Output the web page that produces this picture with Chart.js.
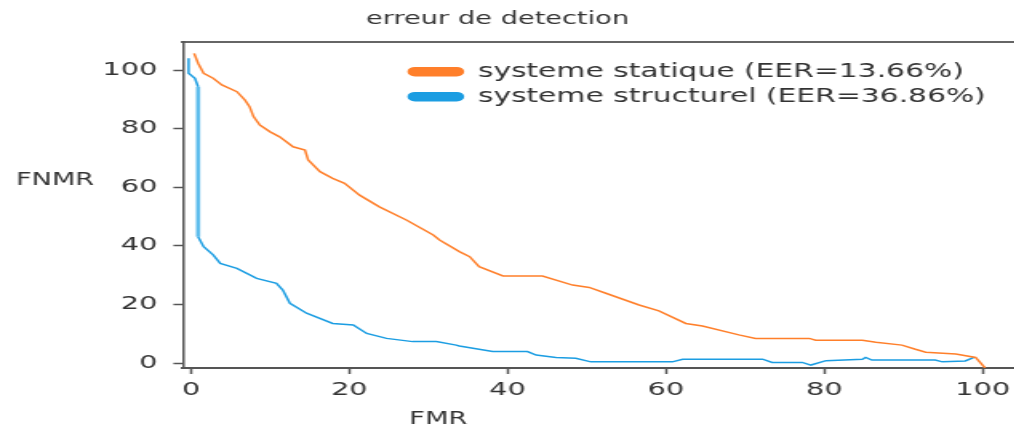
<!DOCTYPE html>
<html>
<head>
<meta charset="utf-8">
<title>erreur de detection</title>
<script src="https://cdn.jsdelivr.net/npm/chart.js@4.4.1/dist/chart.umd.min.js"></script>
<style>
  html, body { margin: 0; padding: 0; background: #fff; overflow: hidden; }
  #wrap { width: 660px; height: 433px; transform: scaleX(1.6); transform-origin: 0 0; }
</style>
</head>
<body>
<div id="wrap"><canvas id="detChart"></canvas></div>
<script>
const fmrTicks = [0, 20, 40, 60, 80, 100];
const fnmrTicks = [0, 20, 40, 60, 80, 100];

const statiqueLabel = 'systeme statique (EER=13.66%)';
const statiqueFmr = [0.4, 0.9, 1.6, 2.8, 3.9, 5.8, 6.8, 7.4, 7.9, 8.7, 10.0, 11.2, 12.9, 14.4, 14.8, 16.3, 17.9, 19.4, 21.3, 23.8, 27.2, 30.6, 31.4, 33.9, 35.2, 36.4, 39.4, 44.4, 48.2, 50.3, 52.4, 56.6, 59.1, 62.5, 64.6, 69.2, 71.3, 78.1, 78.9, 84.8, 86.5, 89.8, 91.5, 92.8, 96.6, 99.1, 100.3];
const statiqueFnmr = [105.7, 102.3, 98.9, 97.2, 94.9, 92.6, 89.8, 87.5, 84.1, 81.2, 78.9, 77.2, 73.8, 72.7, 69.3, 65.3, 63.0, 61.3, 57.3, 53.3, 48.8, 43.7, 42.0, 38.0, 36.3, 32.9, 29.7, 29.7, 26.6, 25.8, 23.8, 19.8, 17.8, 13.5, 12.6, 9.6, 8.4, 8.4, 7.8, 7.8, 7.1, 6.1, 4.7, 3.7, 3.1, 1.9, -1.7];

const structurelLabel = 'systeme structurel (EER=36.86%)';
const structurelFmr = [-0.3, -0.3, 0.5, 0.9, 0.9, 1.6, 2.8, 3.7, 5.8, 8.3, 10.8, 11.6, 12.5, 14.6, 17.9, 20.5, 22.2, 24.7, 28.0, 31.0, 33.5, 33.9, 38.1, 42.5, 43.6, 46.1, 48.6, 50.5, 60.8, 62.1, 72.2, 73.4, 77.2, 78.3, 80.2, 84.8, 85.2, 86.0, 94.0, 94.9, 97.8, 98.9];
const structurelFnmr = [104.0, 98.9, 97.2, 94.3, 43.1, 39.7, 36.9, 34.0, 32.3, 28.9, 27.2, 24.9, 20.4, 17.0, 13.5, 13.0, 10.1, 8.4, 7.3, 7.3, 6.1, 5.8, 3.9, 3.9, 2.7, 1.9, 1.6, 0.4, 0.4, 1.3, 1.3, 0.2, 0.2, -0.7, 0.8, 1.3, 1.9, 1.0, 1.0, 0.4, 0.7, 1.9];

const toPoints = (xs, ys) => xs.map((x, i) => ({ x: x, y: ys[i] }));

const textColor = '#333';
const axisColor = '#555';
const font = { family: 'DejaVu Sans', size: 18 };

const xRange = { min: -1.01, max: 109.1 };
const yRange = { min: -1.706, max: 109.56 };

// legend sits inside the plot, title a little left of centre, axis names drawn flat
const placement = {
    id: 'placement',
    afterLayout(chart) {
        chart.legend.left = 249;
        chart.legend.top = 56;
        chart.titleBlock.right = chart.titleBlock.left + 622;
    },
    afterDraw(chart) {
        const ctx = chart.ctx;
        ctx.save();
        ctx.font = '17px "DejaVu Sans"';
        ctx.fillStyle = textColor;
        ctx.textAlign = 'center';
        ctx.textBaseline = 'middle';
        ctx.fillText('FNMR', 34.4, 181);
        ctx.fillText('FMR', 274, 420);
        ctx.restore();
    }
};

new Chart(document.getElementById('detChart'), {
    type: 'line',
    data: {
        datasets: [{
            label: statiqueLabel,
            data: toPoints(statiqueFmr, statiqueFnmr),
            borderColor: '#ff7f2a',
            backgroundColor: '#ff7f2a'
        }, {
            label: structurelLabel,
            data: toPoints(structurelFmr, structurelFnmr),
            borderColor: '#1b9de2',
            backgroundColor: '#1b9de2',
            segment: {
                borderWidth: ctx => (ctx.p0.parsed.y - ctx.p1.parsed.y > 20 ? 2.6 : undefined),
                borderColor: ctx => (ctx.p0.parsed.y - ctx.p1.parsed.y > 20 ? '#5cbcec' : undefined)
            }
        }]
    },
    options: {
        responsive: true,
        maintainAspectRatio: false,
        animation: false,
        layout: { padding: 0 },
        elements: {
            line: { borderWidth: 1.5, tension: 0 },
            point: { radius: 0 }
        },
        plugins: {
            title: {
                display: true,
                text: 'erreur de detection',
                color: '#333',
                font: { family: 'DejaVu Sans', size: 17, weight: 'normal' },
                padding: { top: 9, bottom: 12.6 }
            },
            legend: {
                position: 'chartArea',
                align: 'start',
                labels: {
                    font: { family: 'DejaVu Sans', size: 18.6 },
                    color: textColor,
                    boxWidth: 34,
                    boxHeight: 8,
                    useBorderRadius: true,
                    borderRadius: 4,
                    padding: 6.4
                }
            },
            tooltip: { enabled: false }
        },
        scales: {
            x: {
                type: 'linear',
                min: xRange.min,
                max: xRange.max,
                afterBuildTicks: scale => { scale.ticks = fmrTicks.map(v => ({ value: v })); },
                afterFit: scale => { scale.height = 65; },
                grid: { drawOnChartArea: false, drawTicks: true, tickLength: 6, tickColor: axisColor, tickWidth: 1.5 },
                border: { color: axisColor, width: 2 },
                ticks: { font: font, color: textColor, padding: 6, maxRotation: 0, autoSkip: false }
            },
            xTop: {
                type: 'linear',
                position: 'top',
                min: xRange.min,
                max: xRange.max,
                afterFit: scale => { scale.height = 0; },
                grid: { drawOnChartArea: false, drawTicks: false },
                border: { color: '#666', width: 2 },
                ticks: { display: false }
            },
            y: {
                type: 'linear',
                min: yRange.min,
                max: yRange.max,
                afterBuildTicks: scale => { scale.ticks = fnmrTicks.map(v => ({ value: v })); },
                afterFit: scale => { scale.width = 114.375; },
                grid: { drawOnChartArea: false, drawTicks: true, tickLength: 6, tickColor: axisColor, tickWidth: 1.5 },
                border: { color: axisColor, width: 1.5 },
                ticks: { font: font, color: textColor, padding: 10 }
            }
        }
    },
    plugins: [placement]
});
</script>
</body>
</html>
